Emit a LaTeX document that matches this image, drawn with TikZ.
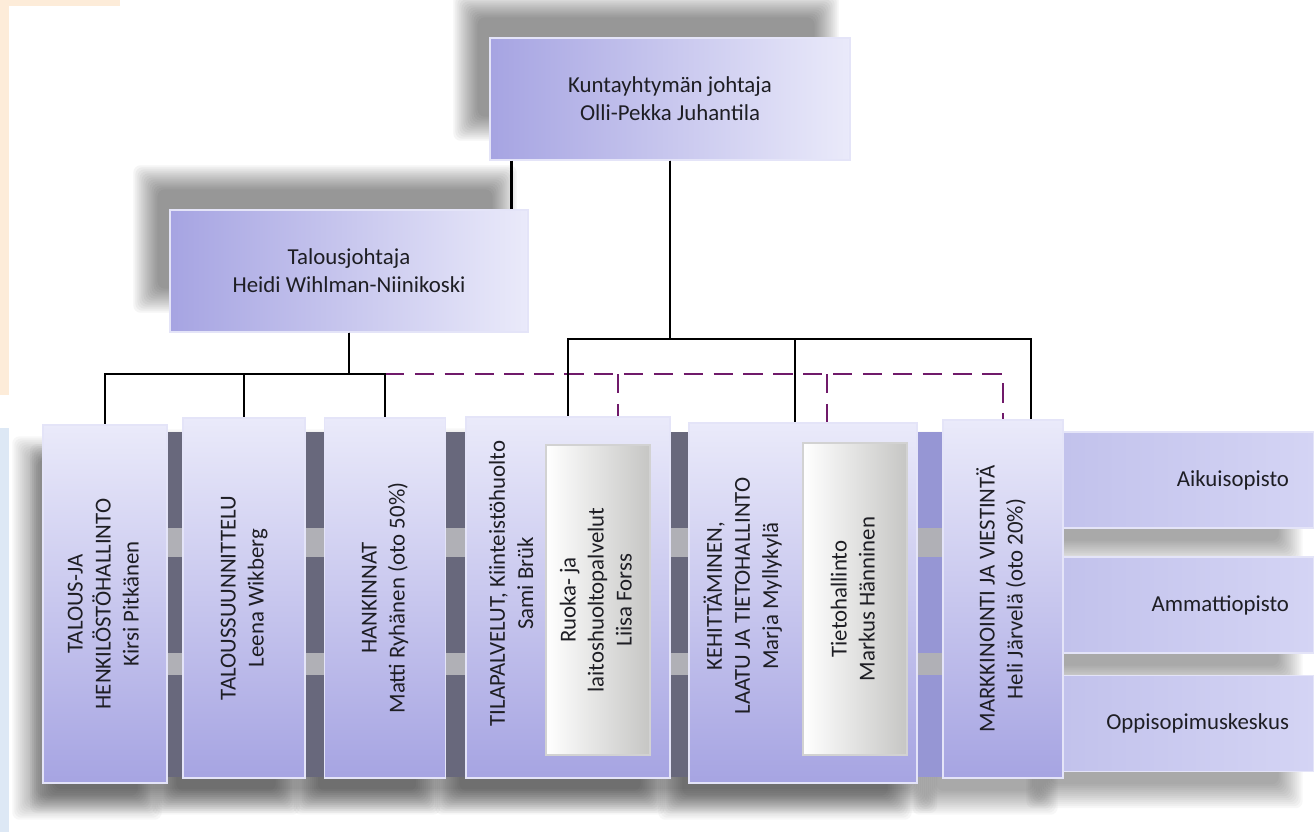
\documentclass[tikz,border=0pt]{standalone}
\usepackage{fontspec}
\setmainfont{Carlito}
\usepackage{graphicx}
\usetikzlibrary{calc, positioning, shapes, backgrounds}
\pgfdeclarelayer{shade}
\pgfsetlayers{background,shade,main}
\definecolor{lavdark}{RGB}{166,164,226}
\definecolor{lavlight}{RGB}{234,234,250}
\definecolor{lavmid}{RGB}{150,150,212}
\definecolor{rowdark}{RGB}{194,194,236}
\definecolor{rowlight}{RGB}{212,212,244}
\definecolor{boxedge}{RGB}{228,228,248}
\definecolor{subgray}{RGB}{198,198,196}
\definecolor{subedge}{RGB}{210,210,210}
\definecolor{gapdark}{RGB}{104,104,124}
\definecolor{gapband}{RGB}{176,176,182}
\definecolor{linkpurple}{RGB}{112,26,106}
\definecolor{peach}{RGB}{253,236,217}
\definecolor{skyblue}{RGB}{221,232,245}
\definecolor{textgray}{RGB}{30,30,36}
\newcommand{\orgfont}{\fontsize{13}{16}\selectfont}
\newcommand{\vlab}[1]{\rotatebox{90}{\begin{tabular}{@{}c@{}}#1\end{tabular}}}
% soft shadow: north west corner, south east corner, x shift, y shift, opacity of one step
\newcommand{\dropshade}[5]{%
	\foreach \s in {0,...,12}{
		\pgfmathsetmacro{\e}{2*\s-12}
		\fill[black, fill opacity=#5, rounded corners=4pt] ($(#1)+({#3-(\e)},{#4-(\e)})$) rectangle ($(#2)+({#3+(\e)},{#4+(\e)})$);
	}}
\tikzstyle{org box}=[rectangle, inner sep=0pt, align=center, font=\orgfont, text=textgray, draw=boxedge, line width=0.8pt]
\tikzstyle{head box}=[org box, left color=lavdark, right color=lavlight]
\tikzstyle{unit box}=[org box, top color=lavlight, bottom color=lavdark]
\tikzstyle{sub box}=[org box, left color=white, right color=subgray, draw=subedge]
\tikzstyle{row box}=[org box, left color=rowdark, right color=rowlight, inner xsep=0.5cm, text width=4.02cm, align=right]
\tikzstyle{unit text}=[font=\orgfont, text=textgray, inner sep=0pt]
\tikzstyle{org line}=[draw=black, line width=1.6pt]
\tikzstyle{link line}=[draw=linkpurple, line width=1.6pt, dash pattern=on 11pt off 6pt]

\begin{document}
\begin{tikzpicture}[x=0.02cm, y=-0.02cm]
	\useasboundingbox (0,0) rectangle (1314,832);

	% Draw the head boxes
	\node[head box, minimum width=7.2cm, minimum height=2.44cm] (top) at (670,99) {Kuntayhtymän johtaja\\Olli-Pekka Juhantila};
	\node[head box, minimum width=7.16cm, minimum height=2.44cm] (tj) at (349,271) {Talousjohtaja\\Heidi Wihlman-Niinikoski};

	% Draw the rows on the right
	\foreach \name/\y/\txt in {1/480/Aikuisopisto, 2/605/Ammattiopisto, 3/723.5/Oppisopimuskeskus}
	\node[row box, minimum height=1.92cm] (R-\name) at (1188.5,\y) {\txt};

	% Draw the units
	\node[unit box, minimum width=2.48cm, minimum height=7.16cm] (T-1) at (105,604) {\vlab{TALOUS-JA\\HENKILÖSTÖHALLINTO\\Kirsi Pitkänen}};
	\node[unit box, minimum width=2.44cm, minimum height=7.2cm] (T-2) at (244,598) {\vlab{TALOUSSUUNNITTELU\\Leena Wikberg}};
	\node[unit box, minimum width=2.42cm, minimum height=7.2cm] (T-3) at (385,598) {\vlab{HANKINNAT\\Matti Ryhänen (oto 50\%)}};
	\node[unit box, minimum width=4.08cm, minimum height=7.22cm] (T-4) at (568,597.5) {};
	\node[unit box, minimum width=4.56cm, minimum height=7.2cm] (T-5) at (803,603) {};
	\node[unit box, minimum width=2.4cm, minimum height=7.16cm] (T-6) at (1003,599) {\vlab{MARKKINOINTI JA VIESTINTÄ\\Heli Järvelä (oto 20\%)}};

	% Sub boxes inside units 4 and 5
	\node[sub box, minimum width=2.08cm, minimum height=6.2cm] (ruoka) at (598,600) {\vlab{Ruoka- ja\\laitoshuoltopalvelut\\Liisa Forss}};
	\node[sub box, minimum width=2.08cm, minimum height=6.24cm] (tieto) at (855,599) {\vlab{Tietohallinto\\Markus Hänninen}};
	\node[unit text] (T-4-text) at ($(T-4.west)+(48,-14)$) {\vlab{TILAPALVELUT, Kiinteistöhuolto\\Sami Brük}};
	\node[unit text] (T-5-text) at ($(T-5.west)+(56,-7)$) {\vlab{KEHITTÄMINEN,\\LAATU JA TIETOHALLINTO\\Marja Myllykylä}};

	% Page edge strips
	\begin{pgfonlayer}{background}
		\fill[peach] (0,0) rectangle (120,6);
		\fill[peach] (0,0) rectangle (9,395);
		\fill[skyblue] (0,428) rectangle (9,832);
	\end{pgfonlayer}

	% Shadows, then the strip behind the units
	\begin{pgfonlayer}{shade}
		\foreach \name in {top, tj}
		{\dropshade{\name.north west}{\name.south east}{-24}{-32}{0.04}}
		\foreach \name in {R-1, R-2, R-3}
		{\dropshade{\name.north west}{\name.south east}{-24}{24}{0.03}}
		\foreach \name in {T-1, T-2, T-3, T-4, T-5, T-6}
		{\dropshade{\name.north west}{\name.south east}{-18}{24}{0.03}}
		\dropshade{60,432}{943,777}{-18}{24}{0.03}
		\fill[gapdark] (60,432) rectangle (917,777);
		\fill[lavmid] (917,432) rectangle (943,777);
		\foreach \ya/\yb in {528/557, 653/675}
		\fill[gapband] (60,\ya) rectangle (943,\yb);
	\end{pgfonlayer}

	% Bus levels and drop points
	\coordinate (busL) at (0,374);
	\coordinate (busR) at (0,339);
	\coordinate (k-top) at ($(top.south west)+(22,0)$);
	\coordinate (d-5) at ($(T-5.north)+(-8,0)$);
	\coordinate (d-6) at ($(T-6.north)+(28,0)$);
	\coordinate (d-r) at ($(T-4.north)+(50,0)$);
	\coordinate (d-t) at ($(T-5.north)+(24,0)$);

	% Dashed links
	\draw[link line] (busL -| T-3.north) -| (T-6.north);
	\foreach \dest in {d-r, d-t}
	\draw[link line] (busL -| \dest) -- (\dest);

	% Connect the head boxes with the units
	\draw[org line] (k-top) -- (k-top |- tj.north);
	\foreach \dest in {1,2,3}
	\draw[org line] (tj.south) |- (busL -| T-\dest.north) -- (T-\dest.north);
	\draw[org line] (top.south) |- (busR -| T-4.north) -- (T-4.north);
	\foreach \dest in {d-5, d-6}
	\draw[org line] (top.south) |- (busR -| \dest) -- (\dest);
\end{tikzpicture}
\end{document}
